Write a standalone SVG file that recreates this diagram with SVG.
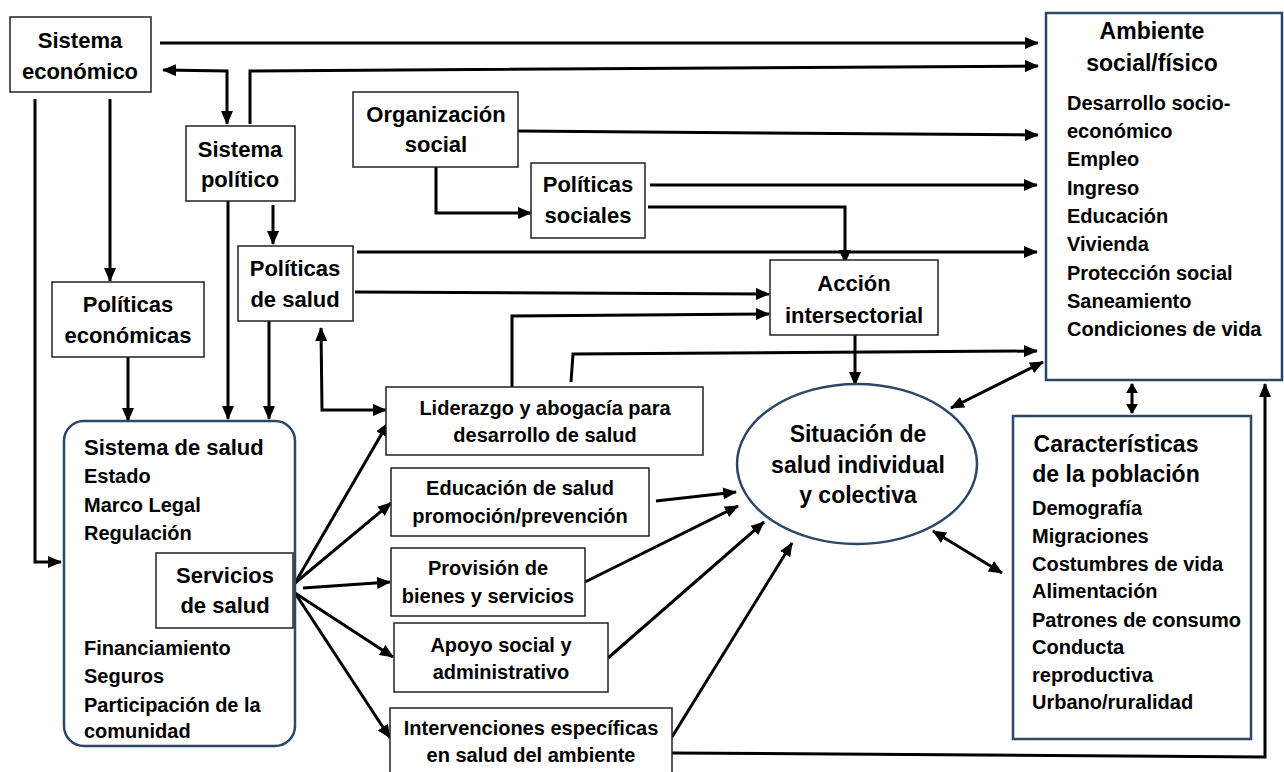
<svg xmlns="http://www.w3.org/2000/svg" width="1284" height="772" viewBox="0 0 1284 772">
<defs>
<marker id="ah" markerUnits="userSpaceOnUse" markerWidth="14" markerHeight="12" refX="13" refY="6" orient="auto-start-reverse">
<path d="M0,0 L14,6 L0,12 z" fill="#000"/>
</marker>
<marker id="ahs" markerUnits="userSpaceOnUse" markerWidth="10" markerHeight="12" refX="9" refY="6" orient="auto-start-reverse">
<path d="M0,0 L10,6 L0,12 z" fill="#000"/>
</marker>
<style>
text{font-family:"Liberation Sans",Arial,sans-serif;font-weight:bold;fill:#000}
.t{font-size:22px;text-anchor:middle}
.tb{font-size:23px;text-anchor:middle}
.l{font-size:20px}
.lc{font-size:20px;text-anchor:middle}
.box{fill:#fff;stroke:#222;stroke-width:1.5}
.nbox{fill:#fff;stroke:#2b4666;stroke-width:2.5}
.c{fill:none;stroke:#000;stroke-width:3}
.c path{marker-end:url(#ah)}
.c .dbl{marker-start:url(#ah)}
.c .sm{marker-start:url(#ahs);marker-end:url(#ahs)}
</style>
</defs>
<rect width="1284" height="772" fill="#fff"/>

<g id="connectors" class="c">
<path d="M160,43 L1038,43"/>
<path class="dbl" d="M163,70 L227,71 L227,124"/>
<path d="M250,124 L250,71 L1038,66"/>
<path d="M110,99 L110,281"/>
<path d="M35,99 L35,562 L61,562"/>
<path d="M273,205 L273,244"/>
<path d="M228,201 L228,419"/>
<path d="M269,321 L269,419"/>
<path d="M128,357 L128,421"/>
<path d="M518,131 L1038,135"/>
<path d="M436,167 L436,213 L531,213"/>
<path d="M650,185 L1037,185"/>
<path d="M648,207 L845,207 L845,263"/>
<path d="M357,252 L1037,252"/>
<path d="M355,292 L769,294"/>
<path d="M512,387 L512,316 L769,314"/>
<path d="M571,382 L573,354 L1037,351"/>
<path d="M855,335 L855,385"/>
<path class="dbl" d="M321,328 L322,410 L386,410"/>
<path d="M295,583 L388,423"/>
<path d="M295,583 L391,503"/>
<path d="M303,588 L390,582"/>
<path d="M295,593 L393,657"/>
<path d="M295,593 L390,738"/>
<path d="M656,501 L736,492"/>
<path d="M585,582 L738,506"/>
<path d="M608,658 L764,522"/>
<path d="M672,737 L792,543"/>
<path d="M672,753 L1265,757 L1265,384"/>
<path class="dbl" d="M951,408 L1043,362"/>
<path class="dbl" d="M933,531 L1002,573"/>
<path class="sm" d="M1132,384 L1132,413"/>
</g>

<g id="sistema-economico">
<rect class="box" x="10" y="17" width="141" height="75"/>
<text class="t" x="80" y="48">Sistema</text>
<text class="t" x="80" y="79">económico</text>
</g>

<g id="sistema-politico">
<rect class="box" x="186" y="126" width="109" height="75"/>
<text class="t" x="240" y="157">Sistema</text>
<text class="t" x="240" y="187">político</text>
</g>

<g id="organizacion-social">
<rect class="box" x="353" y="92" width="165" height="75"/>
<text class="t" x="436" y="122">Organización</text>
<text class="t" x="436" y="152">social</text>
</g>

<g id="politicas-sociales">
<rect class="box" x="531" y="163" width="114" height="75"/>
<text class="t" x="588" y="192">Políticas</text>
<text class="t" x="588" y="223">sociales</text>
</g>

<g id="politicas-salud">
<rect class="box" x="238" y="246" width="115" height="75"/>
<text class="t" x="295" y="276">Políticas</text>
<text class="t" x="295" y="307">de salud</text>
</g>

<g id="politicas-economicas">
<rect class="box" x="52" y="282" width="152" height="75"/>
<text class="t" x="128" y="312">Políticas</text>
<text class="t" x="128" y="343">económicas</text>
</g>

<g id="accion-intersectorial">
<rect class="box" x="770" y="260" width="168" height="75"/>
<text class="t" x="854" y="291">Acción</text>
<text class="t" x="854" y="323">intersectorial</text>
</g>

<g id="ambiente">
<rect class="nbox" x="1046" y="13" width="236" height="367"/>
<text class="tb" x="1152" y="39">Ambiente</text>
<text class="tb" x="1152" y="71">social/físico</text>
<text class="l" x="1067" y="110">Desarrollo socio-</text>
<text class="l" x="1067" y="138">económico</text>
<text class="l" x="1067" y="166">Empleo</text>
<text class="l" x="1067" y="195">Ingreso</text>
<text class="l" x="1067" y="223">Educación</text>
<text class="l" x="1067" y="251">Vivienda</text>
<text class="l" x="1067" y="280">Protección social</text>
<text class="l" x="1067" y="308">Saneamiento</text>
<text class="l" x="1067" y="336">Condiciones de vida</text>
</g>

<g id="sistema-salud">
<rect class="nbox" x="64" y="421" width="231" height="325" rx="20" ry="20"/>
<text class="l" x="84" y="455" style="font-size:22px">Sistema de salud</text>
<text class="l" x="84" y="483">Estado</text>
<text class="l" x="84" y="512">Marco Legal</text>
<text class="l" x="84" y="540">Regulación</text>
<text class="l" x="84" y="655">Financiamiento</text>
<text class="l" x="84" y="683">Seguros</text>
<text class="l" x="84" y="712">Participación de la</text>
<text class="l" x="84" y="738">comunidad</text>
</g>

<g id="servicios-salud">
<rect class="box" x="156" y="553" width="137" height="75"/>
<text class="t" x="225" y="583">Servicios</text>
<text class="t" x="225" y="613">de salud</text>
</g>

<g id="liderazgo">
<rect class="box" x="386" y="387" width="317" height="68"/>
<text class="lc" x="545" y="415">Liderazgo y abogacía para</text>
<text class="lc" x="545" y="442">desarrollo de salud</text>
</g>

<g id="educacion">
<rect class="box" x="391" y="468" width="258" height="68"/>
<text class="lc" x="520" y="495">Educación de salud</text>
<text class="lc" x="520" y="523">promoción/prevención</text>
</g>

<g id="provision">
<rect class="box" x="391" y="548" width="194" height="68"/>
<text class="lc" x="488" y="575">Provisión de</text>
<text class="lc" x="488" y="603">bienes y servicios</text>
</g>

<g id="apoyo">
<rect class="box" x="394" y="623" width="214" height="69"/>
<text class="lc" x="501" y="652">Apoyo social y</text>
<text class="lc" x="501" y="679">administrativo</text>
</g>

<g id="intervenciones">
<rect class="box" x="390" y="708" width="282" height="72"/>
<text class="lc" x="531" y="735">Intervenciones específicas</text>
<text class="lc" x="531" y="762">en salud del ambiente</text>
</g>

<g id="situacion-salud">
<ellipse cx="857" cy="464" rx="120" ry="80" fill="#fff" stroke="#2b4666" stroke-width="2.5"/>
<text class="tb" x="858" y="442">Situación de</text>
<text class="tb" x="858" y="473">salud individual</text>
<text class="tb" x="858" y="503">y colectiva</text>
</g>

<g id="caracteristicas">
<rect class="nbox" x="1013" y="416" width="238" height="323"/>
<text class="tb" x="1116" y="452">Características</text>
<text class="tb" x="1116" y="482">de la población</text>
<text class="l" x="1032" y="515">Demografía</text>
<text class="l" x="1032" y="543">Migraciones</text>
<text class="l" x="1032" y="571">Costumbres de vida</text>
<text class="l" x="1032" y="598">Alimentación</text>
<text class="l" x="1032" y="627">Patrones de consumo</text>
<text class="l" x="1032" y="654">Conducta</text>
<text class="l" x="1032" y="682">reproductiva</text>
<text class="l" x="1032" y="709">Urbano/ruralidad</text>
</g>
</svg>
